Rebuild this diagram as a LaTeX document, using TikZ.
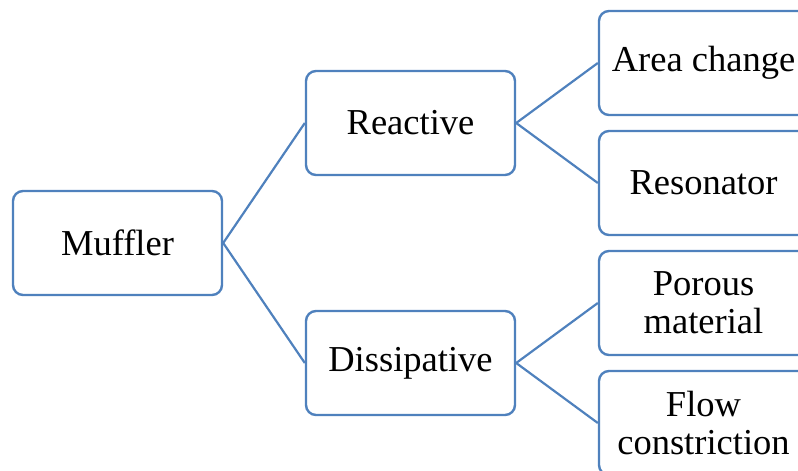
\documentclass[tikz,border=0pt]{standalone}
\usepackage{fontspec}
\setmainfont{Liberation Serif}
\definecolor{boxblue}{RGB}{79,129,189}
\begin{document}
\begin{tikzpicture}[x=1pt,y=-1pt,
  box/.style={draw=boxblue, line width=2.4pt, rounded corners=10pt, fill=white,
    minimum width=209pt, minimum height=104pt, inner sep=0pt, align=center,
    font=\fontsize{36.5}{38}\selectfont},
  link/.style={draw=boxblue, line width=2.2pt}]
\useasboundingbox (0,0) rectangle (798,471);
\clip (0,0) rectangle (798,471);
\node[box] (muffler) at (117.5,243) {Muffler};
\node[box] (reactive) at (410.5,123) {Reactive};
\node[box] (dissip) at (410.5,363) {Dissipative};
\node[box] (area) at (703.5,63) {Area change};
\node[box] (reson) at (703.5,183) {Resonator};
\node[box] (porous) at (703.5,303) {Porous\\material};
\node[box] (flow) at (703.5,423) {Flow\\constriction};
\draw[link] (muffler.east) -- (reactive.west);
\draw[link] (muffler.east) -- (dissip.west);
\draw[link] (reactive.east) -- (area.west);
\draw[link] (reactive.east) -- (reson.west);
\draw[link] (dissip.east) -- (porous.west);
\draw[link] (dissip.east) -- (flow.west);
\end{tikzpicture}
\end{document}
